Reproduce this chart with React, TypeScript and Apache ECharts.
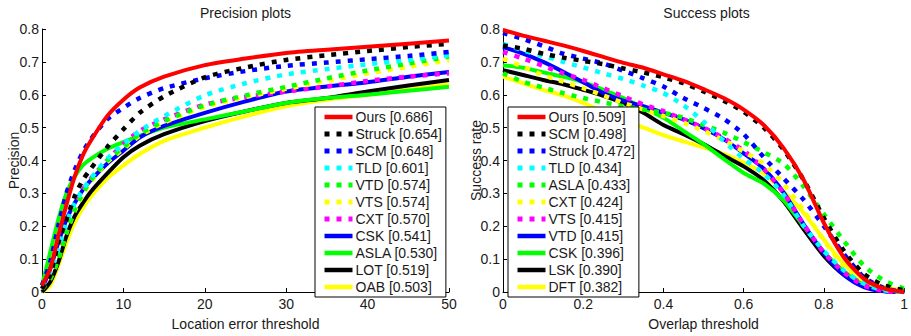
import React, { useEffect, useRef } from "react";
import * as echarts from "echarts";

// ---------- Precision plot data ----------
const precThresholds = [0, 1, 2, 3, 4, 5, 6, 8, 10, 12, 15, 20, 25, 30, 35, 40, 45, 50];
const precOurs = [0.02, 0.07, 0.17, 0.265, 0.35, 0.415, 0.46, 0.535, 0.585, 0.622, 0.655, 0.69, 0.71, 0.727, 0.737, 0.746, 0.755, 0.765];
const precStruck = [0.01, 0.05, 0.15, 0.22, 0.29, 0.34, 0.375, 0.44, 0.495, 0.545, 0.595, 0.653, 0.683, 0.706, 0.72, 0.733, 0.745, 0.755];
const precSCM = [0.02, 0.09, 0.2, 0.3, 0.37, 0.425, 0.465, 0.525, 0.56, 0.59, 0.62, 0.65, 0.672, 0.688, 0.698, 0.708, 0.718, 0.73];
const precTLD = [0.02, 0.06, 0.13, 0.21, 0.27, 0.31, 0.345, 0.405, 0.45, 0.49, 0.535, 0.598, 0.635, 0.662, 0.678, 0.693, 0.706, 0.72];
const precVTD = [0.01, 0.04, 0.1, 0.18, 0.25, 0.3, 0.34, 0.4, 0.44, 0.48, 0.52, 0.568, 0.598, 0.624, 0.65, 0.674, 0.695, 0.716];
const precVTS = [0.01, 0.04, 0.1, 0.18, 0.245, 0.295, 0.335, 0.395, 0.435, 0.475, 0.515, 0.563, 0.593, 0.618, 0.642, 0.665, 0.685, 0.705];
const precCXT = [0.01, 0.05, 0.13, 0.2, 0.265, 0.31, 0.345, 0.4, 0.45, 0.49, 0.525, 0.57, 0.593, 0.61, 0.625, 0.642, 0.655, 0.665];
const precCSK = [0.01, 0.07, 0.15, 0.22, 0.27, 0.31, 0.34, 0.39, 0.43, 0.47, 0.505, 0.545, 0.58, 0.61, 0.625, 0.638, 0.655, 0.669];
const precASLA = [0.02, 0.12, 0.22, 0.3, 0.35, 0.385, 0.405, 0.435, 0.456, 0.475, 0.5, 0.525, 0.55, 0.575, 0.59, 0.6, 0.612, 0.624];
const precLOT = [0, 0.03, 0.09, 0.17, 0.23, 0.27, 0.305, 0.36, 0.41, 0.445, 0.48, 0.52, 0.55, 0.575, 0.59, 0.61, 0.628, 0.645];
const precOAB = [0, 0.02, 0.08, 0.15, 0.21, 0.255, 0.29, 0.345, 0.385, 0.42, 0.46, 0.5, 0.535, 0.565, 0.585, 0.6, 0.615, 0.632];

// ---------- Success plot data ----------
const succThresholds = [0, 0.05, 0.1, 0.15, 0.2, 0.25, 0.3, 0.35, 0.4, 0.45, 0.5, 0.55, 0.6, 0.65, 0.7, 0.75, 0.8, 0.85, 0.9, 0.95, 1.0];
const succOurs = [0.797, 0.78, 0.765, 0.75, 0.733, 0.715, 0.697, 0.682, 0.662, 0.642, 0.617, 0.59, 0.555, 0.508, 0.437, 0.34, 0.21, 0.105, 0.04, 0.01, 0];
const succSCM = [0.75, 0.74, 0.725, 0.713, 0.703, 0.693, 0.68, 0.668, 0.653, 0.635, 0.61, 0.582, 0.548, 0.5, 0.432, 0.34, 0.225, 0.125, 0.055, 0.02, 0.005];
const succStruck = [0.788, 0.77, 0.748, 0.725, 0.71, 0.695, 0.673, 0.65, 0.625, 0.59, 0.56, 0.527, 0.48, 0.41, 0.345, 0.28, 0.2, 0.115, 0.045, 0.012, 0];
const succTLD = [0.755, 0.735, 0.718, 0.7, 0.683, 0.665, 0.648, 0.628, 0.605, 0.568, 0.518, 0.46, 0.405, 0.36, 0.295, 0.2, 0.125, 0.065, 0.025, 0.005, 0];
const succASLA = [0.665, 0.64, 0.622, 0.605, 0.59, 0.577, 0.565, 0.555, 0.545, 0.53, 0.508, 0.485, 0.456, 0.425, 0.39, 0.32, 0.237, 0.155, 0.08, 0.035, 0.01];
const succCXT = [0.71, 0.685, 0.66, 0.64, 0.62, 0.598, 0.575, 0.555, 0.535, 0.515, 0.49, 0.462, 0.427, 0.39, 0.328, 0.247, 0.157, 0.08, 0.035, 0.01, 0];
const succVTS = [0.73, 0.71, 0.688, 0.665, 0.645, 0.62, 0.595, 0.57, 0.55, 0.525, 0.5, 0.468, 0.43, 0.375, 0.3, 0.205, 0.12, 0.06, 0.02, 0.003, 0];
const succVTD = [0.745, 0.725, 0.7, 0.67, 0.638, 0.605, 0.582, 0.565, 0.545, 0.525, 0.498, 0.465, 0.422, 0.375, 0.302, 0.205, 0.118, 0.052, 0.015, 0.002, 0];
const succCSK = [0.69, 0.682, 0.668, 0.655, 0.638, 0.615, 0.59, 0.56, 0.53, 0.49, 0.45, 0.405, 0.362, 0.33, 0.278, 0.2, 0.122, 0.063, 0.025, 0.005, 0];
const succLSK = [0.675, 0.66, 0.645, 0.632, 0.615, 0.597, 0.575, 0.545, 0.508, 0.48, 0.45, 0.415, 0.382, 0.34, 0.275, 0.19, 0.11, 0.052, 0.02, 0.003, 0];
const succDFT = [0.655, 0.635, 0.615, 0.598, 0.575, 0.548, 0.52, 0.5, 0.477, 0.458, 0.44, 0.42, 0.394, 0.36, 0.305, 0.24, 0.16, 0.085, 0.04, 0.015, 0.005];

// ---------- Legend entries (name, color, style) ----------
const precLegend = [
  { name: "Ours [0.686]", color: "#ff0000", dotted: false, values: precOurs },
  { name: "Struck [0.654]", color: "#000000", dotted: true, values: precStruck },
  { name: "SCM [0.648]", color: "#0000ff", dotted: true, values: precSCM },
  { name: "TLD [0.601]", color: "#00ffff", dotted: true, values: precTLD },
  { name: "VTD [0.574]", color: "#00ff00", dotted: true, values: precVTD },
  { name: "VTS [0.574]", color: "#ffff00", dotted: true, values: precVTS },
  { name: "CXT [0.570]", color: "#ff00ff", dotted: true, values: precCXT },
  { name: "CSK [0.541]", color: "#0000ff", dotted: false, values: precCSK },
  { name: "ASLA [0.530]", color: "#00ff00", dotted: false, values: precASLA },
  { name: "LOT [0.519]", color: "#000000", dotted: false, values: precLOT },
  { name: "OAB [0.503]", color: "#ffff00", dotted: false, values: precOAB },
];

const succLegend = [
  { name: "Ours [0.509]", color: "#ff0000", dotted: false, values: succOurs },
  { name: "SCM [0.498]", color: "#000000", dotted: true, values: succSCM },
  { name: "Struck [0.472]", color: "#0000ff", dotted: true, values: succStruck },
  { name: "TLD [0.434]", color: "#00ffff", dotted: true, values: succTLD },
  { name: "ASLA [0.433]", color: "#00ff00", dotted: true, values: succASLA },
  { name: "CXT [0.424]", color: "#ffff00", dotted: true, values: succCXT },
  { name: "VTS [0.415]", color: "#ff00ff", dotted: true, values: succVTS },
  { name: "VTD [0.415]", color: "#0000ff", dotted: false, values: succVTD },
  { name: "CSK [0.396]", color: "#00ff00", dotted: false, values: succCSK },
  { name: "LSK [0.390]", color: "#000000", dotted: false, values: succLSK },
  { name: "DFT [0.382]", color: "#ffff00", dotted: false, values: succDFT },
];

const FONT = "'Liberation Sans', Arial, Helvetica, sans-serif";
const TXT = "#1a1a1a";
const DOT = [5, 7];

function lineStyleOf(e: any) {
  return {
    color: e.color,
    width: e.dotted ? 4.5 : 4,
    type: e.dotted ? DOT : "solid",
    cap: "butt",
    join: "round",
  };
}

function buildSeries(entries: any[], xs: number[], idx: number) {
  // plot in reverse order so that the first legend entry is drawn on top
  return entries
    .slice()
    .reverse()
    .map((e) => ({
      type: "line",
      name: e.name,
      xAxisIndex: idx,
      yAxisIndex: idx,
      data: xs.map((x, i) => [x, e.values[i]]),
      symbol: "none",
      smooth: 0.25,
      clip: true,
      lineStyle: lineStyleOf(e),
      itemStyle: { color: e.color },
      emphasis: { disabled: true },
    }));
}

function legendData(entries: any[]) {
  return entries.map((e) => ({
    name: e.name,
    lineStyle: { ...lineStyleOf(e), width: e.dotted ? 5 : 4.5 },
    itemStyle: { color: "rgba(0,0,0,0)", borderWidth: 0, opacity: 0 },
  }));
}

function axisCommon() {
  return {
    axisLine: { show: true, onZero: false, lineStyle: { color: "#000", width: 1 } },
    axisTick: { show: true, inside: true, length: 4, lineStyle: { color: "#000" } },
    splitLine: { show: false },
    nameMoveOverlap: false,
    nameTextStyle: { fontSize: 14, color: TXT, fontFamily: FONT },
  };
}

export default function App() {
  const ref = useRef<HTMLDivElement>(null);
  useEffect(() => {
    if (!ref.current) return;
    const chart = echarts.init(ref.current, undefined, { renderer: "svg" });
    const legendCommon = {
      orient: "vertical",
      itemWidth: 28,
      itemHeight: 5,
      itemGap: 3,
      borderColor: "#000",
      borderWidth: 1,
      borderRadius: 0,
      backgroundColor: "#fff",
      padding: [3, 4, 3, 7],
      selectedMode: false,
      itemStyle: { color: "rgba(0,0,0,0)", borderWidth: 0, opacity: 0 },
      lineStyle: { width: 4.5 },
      textStyle: { fontSize: 14, color: TXT, fontFamily: FONT, lineHeight: 14, padding: [0, 0, 0, -2] },
    };
    chart.setOption({
      animation: false,
      backgroundColor: "#fff",
      textStyle: { fontFamily: FONT },
      title: [
        {
          text: "Precision plots",
          left: 245.5,
          top: 6,
          padding: 0,
          textAlign: "center",
          textStyle: { fontSize: 14, fontWeight: "normal", color: TXT, fontFamily: FONT },
        },
        {
          text: "Success plots",
          left: 706.5,
          top: 6,
          padding: 0,
          textAlign: "center",
          textStyle: { fontSize: 14, fontWeight: "normal", color: TXT, fontFamily: FONT },
        },
      ],
      grid: [
        { left: 42, top: 29, width: 407, height: 270 },
        { left: 503, top: 29, width: 407, height: 270 },
      ],
      xAxis: [
        {
          ...axisCommon(),
          type: "value",
          gridIndex: 0,
          min: 0,
          max: 50,
          interval: 10,
          name: "Location error threshold",
          nameLocation: "middle",
          nameGap: 25,
          axisLabel: { fontSize: 14, color: TXT, fontFamily: FONT, margin: 5 },
        },
        {
          ...axisCommon(),
          type: "value",
          gridIndex: 1,
          min: 0,
          max: 1,
          interval: 0.2,
          name: "Overlap threshold",
          nameLocation: "middle",
          nameGap: 25,
          axisLabel: { fontSize: 14, color: TXT, fontFamily: FONT, margin: 5 },
        },
      ],
      yAxis: [
        {
          ...axisCommon(),
          type: "value",
          gridIndex: 0,
          min: 0,
          max: 0.8,
          interval: 0.1,
          name: "Precision",
          nameLocation: "middle",
          nameRotate: 90,
          nameGap: 21,
          axisLabel: { fontSize: 14, color: TXT, fontFamily: FONT, margin: 3 },
        },
        {
          ...axisCommon(),
          type: "value",
          gridIndex: 1,
          min: 0,
          max: 0.8,
          interval: 0.1,
          name: "Success rate",
          nameLocation: "middle",
          nameRotate: 90,
          nameGap: 20,
          axisLabel: { fontSize: 14, color: TXT, fontFamily: FONT, margin: 3 },
        },
      ],
      legend: [
        { ...legendCommon, left: 315, top: 107, data: legendData(precLegend) },
        { ...legendCommon, left: 508, top: 107, data: legendData(succLegend) },
      ],
      series: [
        ...buildSeries(precLegend, precThresholds, 0),
        ...buildSeries(succLegend, succThresholds, 1),
      ],
    });
    return () => chart.dispose();
  }, []);
  return (
    <div
      ref={ref}
      style={{ position: "absolute", left: 0, top: 0, width: 911, height: 336 }}
    />
  );
}
